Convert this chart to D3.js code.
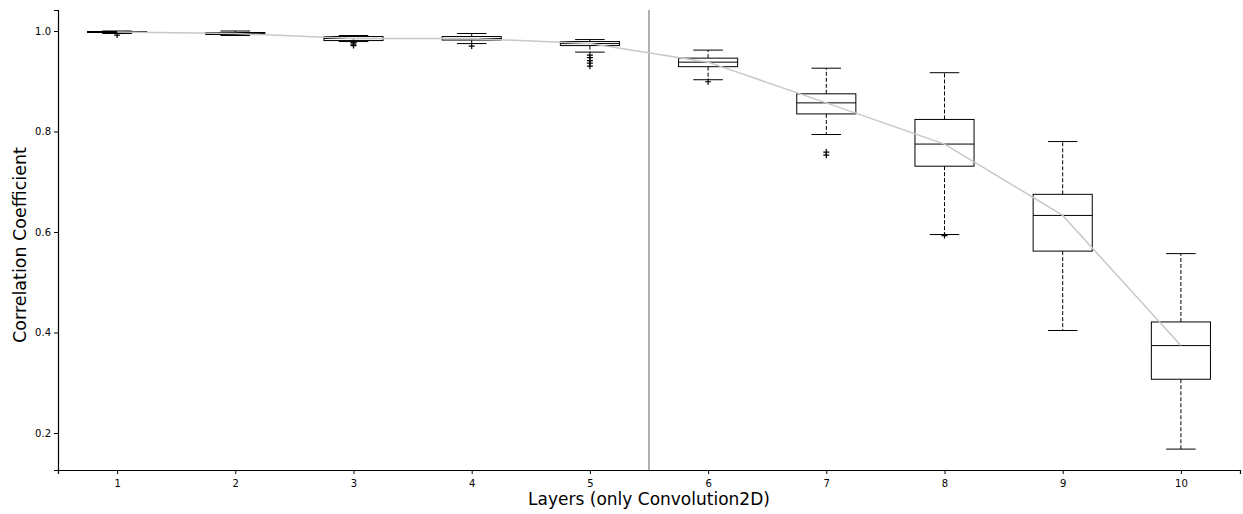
<!DOCTYPE html>
<html>
<head>
<meta charset="utf-8">
<script src="https://cdn.jsdelivr.net/npm/d3@7"></script>
<style>
  body { margin: 0; background: #fff; }
  svg text { font-family: "DejaVu Sans", sans-serif; fill: #000; }
</style>
</head>
<body>
<svg id="chart" width="1243" height="514"></svg>
<script>
// box statistics per layer
var layers = [1, 2, 3, 4, 5, 6, 7, 8, 9, 10];
var whiskerHigh = [1.000, 1.000, 0.991, 0.995, 0.983, 0.962, 0.926, 0.917, 0.780, 0.557];
var q3 = [0.999, 0.997, 0.989, 0.989, 0.979, 0.946, 0.875, 0.824, 0.675, 0.421];
var median = [0.998, 0.995, 0.985, 0.985, 0.975, 0.938, 0.857, 0.775, 0.633, 0.374];
var q1 = [0.997, 0.993, 0.981, 0.982, 0.971, 0.929, 0.835, 0.731, 0.562, 0.307];
var whiskerLow = [0.995, 0.991, 0.979, 0.975, 0.958, 0.903, 0.794, 0.595, 0.404, 0.168];
var fliers = [
  [0.992],
  [],
  [0.977, 0.974, 0.971],
  [0.970],
  [0.952, 0.947, 0.941, 0.936, 0.930],
  [0.899],
  [0.759, 0.753],
  [0.593],
  [],
  []
];
var yTicks = [0.2, 0.4, 0.6, 0.8, 1.0];

var margin = { top: 10, right: 3, bottom: 44, left: 58 };
var width = 1243 - margin.left - margin.right;
var height = 514 - margin.top - margin.bottom;

var svg = d3.select("#chart")
  .append("g")
  .attr("transform", `translate(${margin.left}, ${margin.top})`);

var x = d3.scaleLinear().domain([0.5, 10.5]).range([0, width]);
var y = d3.scaleLinear().domain([0.1264, 1.0418]).range([height, 0]);

// separator between layer 5 and 6
svg.append("line")
  .attr("x1", x(5.5)).attr("x2", x(5.5))
  .attr("y1", 0).attr("y2", height)
  .style("stroke", "#b0b0b0")
  .style("stroke-width", 2);

var boxW = x(1.25) - x(1);   // half box width = 0.25
var capW = x(1.125) - x(1);  // half cap width

var g = svg.selectAll(".box")
  .data(layers)
  .enter()
  .append("g")
  .attr("class", "box");

// dashed whiskers
g.append("line")
  .attr("x1", d => x(d)).attr("x2", d => x(d))
  .attr("y1", (d, i) => y(q3[i])).attr("y2", (d, i) => y(whiskerHigh[i]))
  .style("stroke", "#000").style("stroke-dasharray", "4,2");
g.append("line")
  .attr("x1", d => x(d)).attr("x2", d => x(d))
  .attr("y1", (d, i) => y(q1[i])).attr("y2", (d, i) => y(whiskerLow[i]))
  .style("stroke", "#000").style("stroke-dasharray", "4,2");

// caps
g.append("line")
  .attr("x1", d => x(d) - capW).attr("x2", d => x(d) + capW)
  .attr("y1", (d, i) => y(whiskerHigh[i])).attr("y2", (d, i) => y(whiskerHigh[i]))
  .style("stroke", "#000");
g.append("line")
  .attr("x1", d => x(d) - capW).attr("x2", d => x(d) + capW)
  .attr("y1", (d, i) => y(whiskerLow[i])).attr("y2", (d, i) => y(whiskerLow[i]))
  .style("stroke", "#000");

// boxes
g.append("rect")
  .attr("x", d => x(d) - boxW)
  .attr("width", boxW * 2)
  .attr("y", (d, i) => y(q3[i]))
  .attr("height", (d, i) => y(q1[i]) - y(q3[i]))
  .style("fill", "#fff")
  .style("stroke", "#000");

// medians
g.append("line")
  .attr("x1", d => x(d) - boxW).attr("x2", d => x(d) + boxW)
  .attr("y1", (d, i) => y(median[i])).attr("y2", (d, i) => y(median[i]))
  .style("stroke", "#000");

// fliers as "+"
g.each(function(d, i) {
  d3.select(this).selectAll(".flier")
    .data(fliers[i])
    .enter()
    .append("path")
    .attr("class", "flier")
    .attr("d", v => `M${x(d) - 3},${y(v)}h6M${x(d)},${y(v) - 3}v6`)
    .style("stroke", "#000")
    .style("stroke-width", 1.2);
});

// line through the medians
var line = d3.line()
  .x((d, i) => x(layers[i]))
  .y(d => y(d));

svg.append("path")
  .attr("d", line(median))
  .style("stroke", "#c8c8c8")
  .style("stroke-width", 1.5)
  .style("fill", "none");

// axes
var xAxis = svg.append("g")
  .attr("transform", `translate(0, ${height})`)
  .call(d3.axisBottom(x).tickValues(layers).tickFormat(d3.format("d")).tickSizeOuter(0).tickSize(4));
var yAxis = svg.append("g")
  .call(d3.axisLeft(y).tickValues(yTicks).tickFormat(d3.format(".1f")).tickSizeOuter(0).tickSize(4));

[xAxis, yAxis].forEach(a => {
  a.selectAll("text").style("font-size", "10px").style("font-family", "DejaVu Sans");
  a.select(".domain").style("stroke-width", 1.2);
});
xAxis.selectAll("text").attr("dy", "0.95em");

svg.append("text")
  .attr("x", x(5.5))
  .attr("y", height + 35)
  .attr("text-anchor", "middle")
  .style("font-size", "17px")
  .text("Layers (only Convolution2D)");

svg.append("text")
  .attr("transform", `translate(${-32}, ${height / 2 + 5}) rotate(-90)`)
  .attr("text-anchor", "middle")
  .style("font-size", "17.5px")
  .text("Correlation Coefficient");
</script>
</body>
</html>
